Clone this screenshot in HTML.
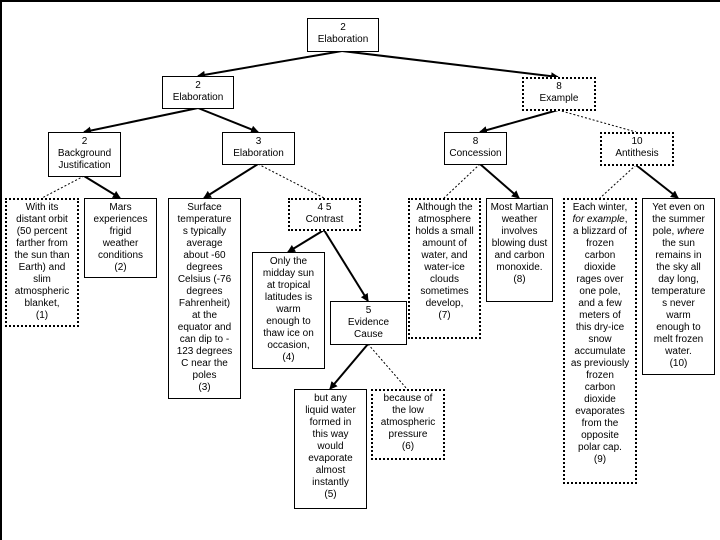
<!DOCTYPE html>
<html><head><meta charset="utf-8"><style>
body{margin:0;width:720px;height:540px;overflow:hidden;background:#fff;position:relative;font-family:"Liberation Sans",Arial,sans-serif;}
.b{position:absolute;box-sizing:border-box;border:1px solid #000;background:#fff;text-align:center;font-size:10px;line-height:12px;padding-top:3px;color:#000;}
.d{border:2px dotted #000;padding-top:2px;}
svg{position:absolute;left:0;top:0;}
</style></head><body>
<svg width="720" height="540">
<defs><marker id="a" markerWidth="8" markerHeight="8" refX="7" refY="4" orient="auto" markerUnits="userSpaceOnUse"><path d="M0,0 L8,4 L0,8 z" fill="#000"/></marker></defs>
<line x1="0" y1="1" x2="720" y2="1" stroke="#000" stroke-width="2"/>
<line x1="1" y1="0" x2="1" y2="540" stroke="#000" stroke-width="2"/>
<g stroke="#000" stroke-width="2" marker-end="url(#a)">
<line x1="342" y1="51" x2="198" y2="76"/>
<line x1="342" y1="51" x2="558" y2="77"/>
<line x1="198" y1="108" x2="84" y2="132"/>
<line x1="198" y1="108" x2="258" y2="132"/>
<line x1="84" y1="176" x2="120" y2="198"/>
<line x1="258" y1="164" x2="204" y2="198"/>
<line x1="324" y1="230" x2="288" y2="252"/>
<line x1="324" y1="230" x2="368" y2="301"/>
<line x1="368" y1="344" x2="330" y2="389"/>
<line x1="558" y1="110" x2="480" y2="132"/>
<line x1="480" y1="164" x2="519" y2="198"/>
<line x1="636" y1="165" x2="678" y2="198"/>
</g>
<g stroke="#000" stroke-width="1" stroke-dasharray="2,2">
<line x1="84" y1="176" x2="42" y2="198"/>
<line x1="258" y1="164" x2="324" y2="198"/>
<line x1="368" y1="344" x2="407" y2="389"/>
<line x1="558" y1="110" x2="636" y2="132"/>
<line x1="480" y1="164" x2="444" y2="198"/>
<line x1="636" y1="165" x2="600" y2="198"/>
</g>
</svg>
<div class="b" style="left:307px;top:18px;width:72px;height:34px">2<br>Elaboration</div>
<div class="b" style="left:162px;top:76px;width:72px;height:33px">2<br>Elaboration</div>
<div class="b d" style="left:522px;top:77px;width:74px;height:34px">8<br>Example</div>
<div class="b" style="left:48px;top:132px;width:73px;height:45px">2<br>Background<br>Justification</div>
<div class="b" style="left:222px;top:132px;width:73px;height:33px">3<br>Elaboration</div>
<div class="b" style="left:444px;top:132px;width:63px;height:33px">8<br>Concession</div>
<div class="b d" style="left:600px;top:132px;width:74px;height:34px">10<br>Antithesis</div>
<div class="b d" style="left:5px;top:198px;width:74px;height:129px">With its<br>distant orbit<br>(50 percent<br>farther from<br>the sun than<br>Earth) and<br>slim<br>atmospheric<br>blanket,<br>(1)</div>
<div class="b" style="left:84px;top:198px;width:73px;height:80px">Mars<br>experiences<br>frigid<br>weather<br>conditions<br>(2)</div>
<div class="b" style="left:168px;top:198px;width:73px;height:201px">Surface<br>temperature<br>s typically<br>average<br>about -60<br>degrees<br>Celsius (-76<br>degrees<br>Fahrenheit)<br>at the<br>equator and<br>can dip to -<br>123 degrees<br>C near the<br>poles<br>(3)</div>
<div class="b d" style="left:288px;top:198px;width:73px;height:33px">4 5<br>Contrast</div>
<div class="b" style="left:252px;top:252px;width:73px;height:117px">Only the<br>midday sun<br>at tropical<br>latitudes is<br>warm<br>enough to<br>thaw ice on<br>occasion,<br>(4)</div>
<div class="b" style="left:330px;top:301px;width:77px;height:44px">5<br>Evidence<br>Cause</div>
<div class="b" style="left:294px;top:389px;width:73px;height:120px">but any<br>liquid water<br>formed in<br>this way<br>would<br>evaporate<br>almost<br>instantly<br>(5)</div>
<div class="b d" style="left:371px;top:389px;width:74px;height:71px">because of<br>the low<br>atmospheric<br>pressure<br>(6)</div>
<div class="b d" style="left:408px;top:198px;width:73px;height:141px">Although the<br>atmosphere<br>holds a small<br>amount of<br>water, and<br>water-ice<br>clouds<br>sometimes<br>develop,<br>(7)</div>
<div class="b" style="left:486px;top:198px;width:67px;height:104px">Most Martian<br>weather<br>involves<br>blowing dust<br>and carbon<br>monoxide.<br>(8)</div>
<div class="b d" style="left:563px;top:198px;width:74px;height:286px">Each winter,<br><i>for example</i>,<br>a blizzard of<br>frozen<br>carbon<br>dioxide<br>rages over<br>one pole,<br>and a few<br>meters of<br>this dry-ice<br>snow<br>accumulate<br>as previously<br>frozen<br>carbon<br>dioxide<br>evaporates<br>from the<br>opposite<br>polar cap.<br>(9)</div>
<div class="b" style="left:642px;top:198px;width:73px;height:177px">Yet even on<br>the summer<br>pole, <i>where</i><br>the sun<br>remains in<br>the sky all<br>day long,<br>temperature<br>s never<br>warm<br>enough to<br>melt frozen<br>water.<br>(10)</div>
</body></html>
